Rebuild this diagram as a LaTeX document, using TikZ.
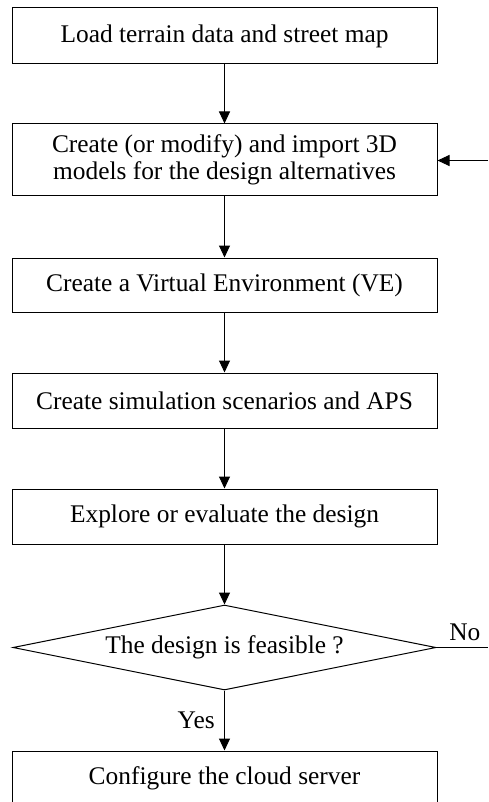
\documentclass[tikz,border=0pt]{standalone}
\usepackage{fontspec}
\setmainfont{Liberation Serif}
\usetikzlibrary{arrows.meta,shapes.geometric}
\begin{document}
\begin{tikzpicture}[x=1pt,y=-1pt,
  font=\fontsize{25.4}{27}\selectfont,
  stepbox/.style={draw, line width=1pt, minimum width=425pt, inner sep=0pt, align=center},
  decision/.style={draw, diamond, line width=1pt, minimum width=423pt, minimum height=85pt, inner sep=0pt, shape aspect=5},
  flow/.style={draw, line width=1pt, -{Triangle[length=12pt,width=11pt]}},
  plain/.style={draw, line width=1pt}]
\useasboundingbox (0,0) rectangle (488,802);

\node[stepbox, minimum height=56pt] (load) at (224.5,36) {Load terrain data and street map};
\node[stepbox, minimum height=72pt] (models) at (224.5,160) {Create (or modify) and import 3D\\models for the design alternatives};
\node[stepbox, minimum height=54pt] (ve) at (224.5,285) {Create a Virtual Environment (VE)};
\node[stepbox, minimum height=55pt] (sim) at (224.5,400.5) {Create simulation scenarios and APS};
\node[stepbox, minimum height=55pt] (explore) at (224.5,516.5) {Explore or evaluate the design};
\node[decision] (feasible) at (224.5,647.5) {The design is feasible ?};
\node[stepbox, minimum height=55pt] (cloud) at (224.5,778.5) {Configure the cloud server};

\coordinate (backin) at (488,160.5);
\coordinate (noout) at (488,647.5);

\draw[flow] (load) -- (models);
\draw[flow] (models) -- (ve);
\draw[flow] (ve) -- (sim);
\draw[flow] (sim) -- (explore);
\draw[flow] (explore) -- (feasible);
\draw[flow] (feasible) -- node[left=6pt] {Yes} (cloud);
\draw[plain] (feasible.east) -- node[above=3pt, pos=0.55] {No} (noout);
\draw[flow] (backin) -- (models.east |- backin);
\end{tikzpicture}
\end{document}
